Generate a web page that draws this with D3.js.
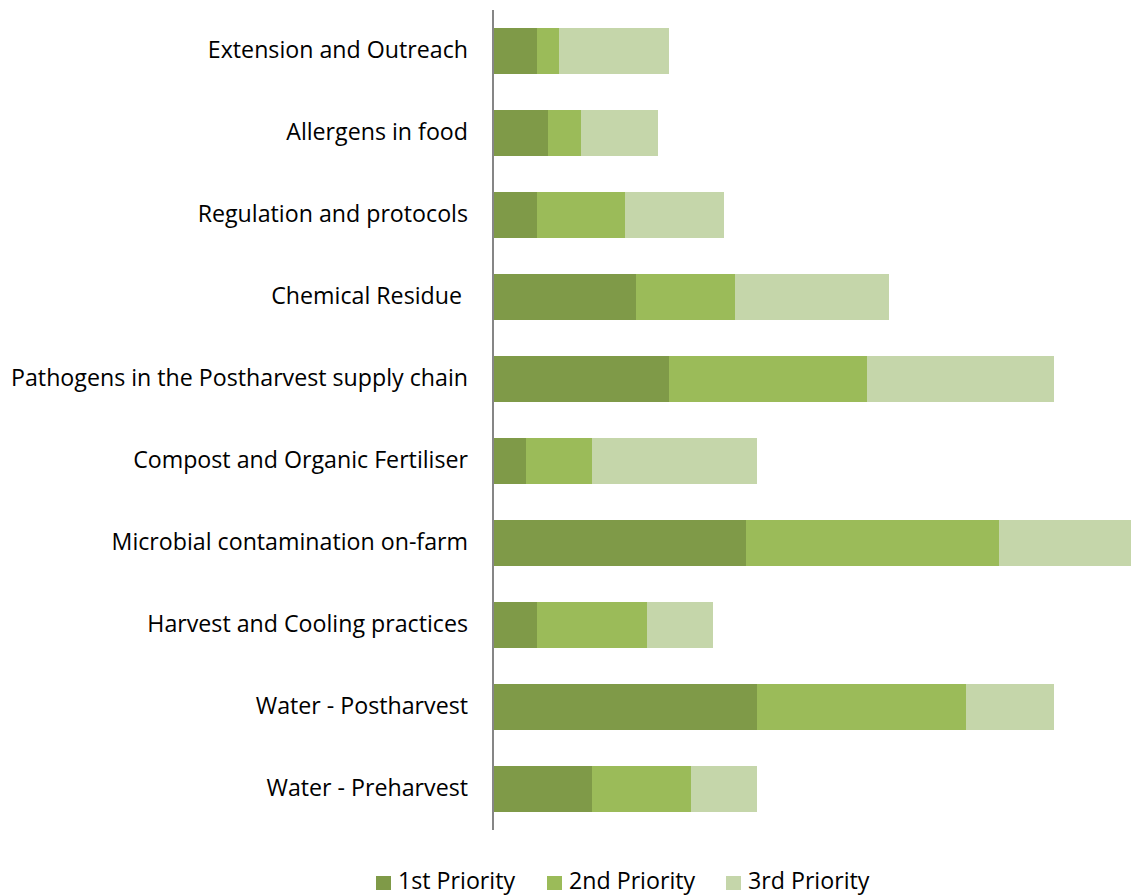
<!DOCTYPE html>
<html><head><meta charset="utf-8">
<script src="https://cdn.jsdelivr.net/npm/d3@7"></script>
<style>body{margin:0;background:#fff}text{font-family:"Open Sans",sans-serif;fill:#000}</style>
</head><body>
<svg id="c" width="1132" height="896"></svg>
<script>
const categories = ["Extension and Outreach","Allergens in food","Regulation and protocols","Chemical Residue ","Pathogens in the Postharvest supply chain","Compost and Organic Fertiliser","Microbial contamination on-farm","Harvest and Cooling practices","Water - Postharvest","Water - Preharvest"];
const seriesNames = ["1st Priority","2nd Priority","3rd Priority"];
const first  = [4,5,4,13,16,3,23,4,24,9];
const second = [2,3,8,9,18,6,23,10,19,9];
const third  = [10,7,9,14,17,15,12,6,8,6];
const colors = ["#7f9a48","#9bbb59","#c5d6aa"];

const svg = d3.select("#c");
const x = d3.scaleLinear().domain([0,58]).range([493,1131]);
const y = d3.scaleBand().domain(categories).range([10,830]).paddingInner(0.439).paddingOuter(0.2195);
const rows = categories.map((c,i)=>({cat:c, "1st Priority":first[i], "2nd Priority":second[i], "3rd Priority":third[i]}));
const stack = d3.stack().keys(seriesNames)(rows);
svg.append("g").selectAll("g").data(stack).join("g").attr("fill",(d,i)=>colors[i])
  .selectAll("rect").data(d=>d).join("rect")
  .attr("x",d=>x(d[0])).attr("width",d=>x(d[1])-x(d[0]))
  .attr("y",d=>y(d.data.cat)).attr("height",y.bandwidth());
const ax = svg.append("g").attr("transform","translate(493,0)").call(d3.axisLeft(y).tickSize(0).tickPadding(25));
ax.select(".domain").attr("stroke","#868686").attr("stroke-width",2).attr("d","M0,10V830");
ax.selectAll("text").attr("font-size",23.2).attr("font-family","Open Sans, sans-serif").style("white-space","pre").attr("fill","#000");
const lg = svg.append("g");
const lx = [376,547,726];
seriesNames.forEach((s,i)=>{
  lg.append("rect").attr("x",lx[i]).attr("y",876).attr("width",15).attr("height",14).attr("fill",colors[i]);
  lg.append("text").attr("x",lx[i]+22).attr("y",889).attr("font-size",23.2).text(s);
});
</script></body></html>
